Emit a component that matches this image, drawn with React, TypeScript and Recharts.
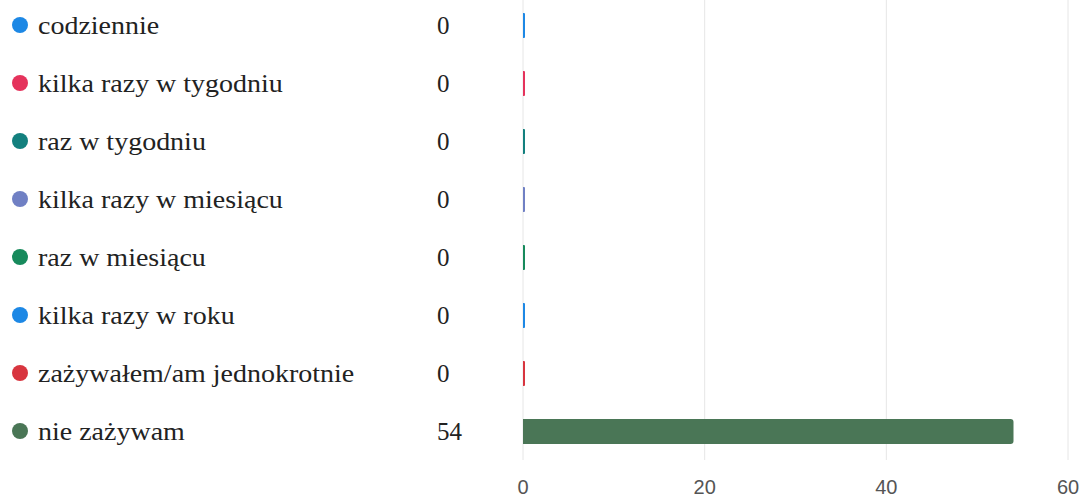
import React from "react";
import { BarChart, Bar, XAxis, YAxis, CartesianGrid, Cell } from "recharts";

const categories = [
  "codziennie",
  "kilka razy w tygodniu",
  "raz w tygodniu",
  "kilka razy w miesiącu",
  "raz w miesiącu",
  "kilka razy w roku",
  "zażywałem/am jednokrotnie",
  "nie zażywam",
];
const values = [0, 0, 0, 0, 0, 0, 0, 54];
const colors = ["#1d88e5", "#e5335c", "#13807e", "#7080c4", "#178a5c", "#1d88e5", "#d8353f", "#4a7656"];
const xTicks = [0, 20, 40, 60];

const data = categories.map((c, i) => ({ name: c, value: values[i], color: colors[i] }));

const SERIF = "'Liberation Serif', 'Times New Roman', serif";

const CatTick = (props: any) => {
  const { y, payload } = props;
  const i = payload.index;
  return (
    <g>
      <circle cx={20} cy={y} r={8} fill={colors[i]} />
      <text
        transform={`translate(38 ${y}) scale(1.12 1)`}
        x={0}
        y={0}
        dy="0.35em"
        fontFamily={SERIF}
        fontSize={25}
        fill="#222"
      >
        {categories[i]}
      </text>
      <text x={437} y={y} dy="0.35em" fontFamily={SERIF} fontSize={25} fill="#222">
        {values[i]}
      </text>
    </g>
  );
};

export default function App() {
  return (
    <div style={{ position: "absolute", left: 0, top: 0, width: 1083, height: 502, background: "#fff" }}>
      <BarChart
        width={1083}
        height={502}
        data={data}
        layout="vertical"
        margin={{ top: -4, right: 15, bottom: 0, left: 0 }}
        barCategoryGap={16}
      >
        <CartesianGrid horizontal={false} stroke="#e6e6e6" />
        <XAxis
          type="number"
          domain={[0, 60]}
          ticks={xTicks}
          axisLine={false}
          tickLine={false}
          height={42}
          tickMargin={14}
          tick={{ fill: "#555", fontSize: 20, fontFamily: "'Liberation Sans', Arial, sans-serif" }}
        />
        <YAxis
          type="category"
          dataKey="name"
          width={523}
          axisLine={false}
          tickLine={false}
          tick={<CatTick />}
          interval={0}
        />
        <Bar dataKey="value" barSize={25} minPointSize={2} isAnimationActive={false} radius={[0, 3, 3, 0]}>
          {data.map((d, i) => (
            <Cell key={i} fill={d.color} />
          ))}
        </Bar>
      </BarChart>
    </div>
  );
}
